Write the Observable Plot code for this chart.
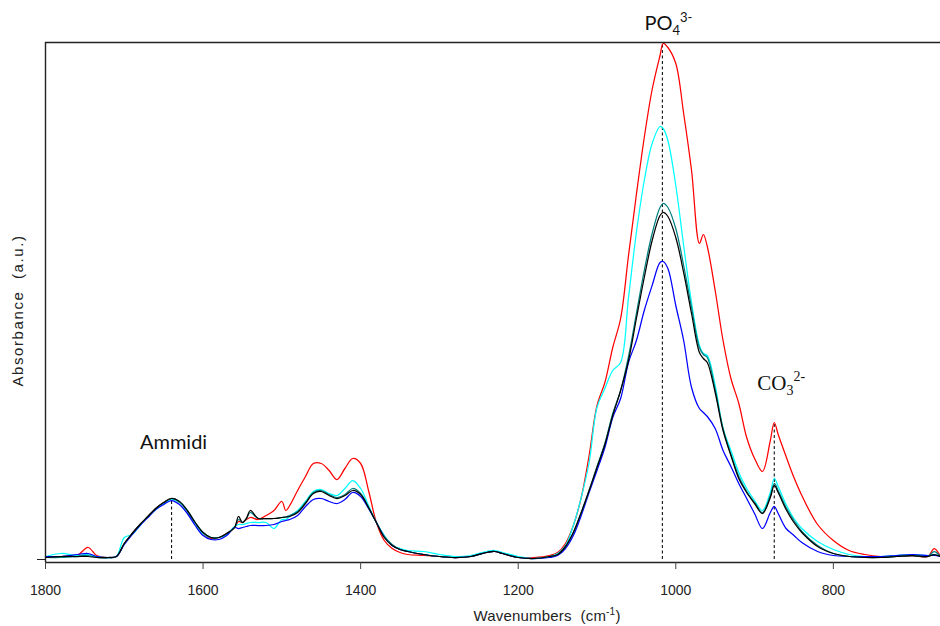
<!DOCTYPE html>
<html><head><meta charset="utf-8">
<script src="https://cdn.jsdelivr.net/npm/d3@7"></script>
<script src="https://cdn.jsdelivr.net/npm/@observablehq/plot@0.6"></script>
<style>body{margin:0;background:#fff}svg{display:block}</style>
</head><body><div id="chart"></div>
<script>
// Wavenumber grid (cm-1)
const wavenumbers = [
 1800,1780,1760,1746,1735,1720,
 1710,1700,1690,1680,1670,1660,1650,1640,1630,1620,1610,1600,
 1590,1580,1570,1560,1555,1550,1545,1540,
 1530,1520,1510,1500,1495,1490,1480,1470,1460,1450,1440,1430,1420,1410,1400,
 1390,1380,1370,1360,1350,1340,1320,1300,1280,1260,1240,1230,1220,1200,1180,1160,
 1150,1140,1130,1120,1110,1100,1090,1080,1070,1060,1050,1040,1030,1020,1016,
 1010,1000,990,980,970,965,960,950,940,930,920,910,900,890,
 880,875,870,860,850,840,820,800,780,760,740,720,700,680,672,664];

const spectrumRed = [
 0.004,0.006,0.008,0.024,0.008,0.004,
 0.006,0.032,0.052,0.070,0.086,0.102,0.114,0.122,0.114,0.096,0.072,0.052,
 0.042,0.044,0.052,0.064,0.076,0.074,0.080,0.084,
 0.080,0.088,0.098,0.116,0.098,0.108,0.138,0.166,0.192,0.192,0.178,0.160,0.182,0.202,0.192,
 0.138,0.074,0.038,0.022,0.014,0.010,0.008,0.006,0.004,0.006,0.014,0.016,0.012,0.004,0.004,0.008,
 0.014,0.032,0.068,0.124,0.208,0.308,0.354,0.424,0.482,0.608,0.730,0.844,0.940,1.008,1.032,
 1.024,0.992,0.892,0.778,0.632,0.650,0.626,0.538,0.438,0.362,0.312,0.244,0.202,0.176,
 0.238,0.274,0.250,0.206,0.164,0.128,0.070,0.038,0.018,0.010,0.006,0.006,0.008,0.006,0.022,0.006];

const spectrumCyan = [
 0.006,0.012,0.008,0.010,0.006,0.004,
 0.006,0.044,0.050,0.068,0.086,0.100,0.112,0.120,0.114,0.096,0.072,0.052,
 0.044,0.044,0.050,0.066,0.070,0.070,0.072,0.074,
 0.074,0.074,0.062,0.080,0.080,0.086,0.098,0.116,0.136,0.140,0.132,0.128,0.142,0.158,0.142,
 0.108,0.074,0.048,0.028,0.022,0.018,0.016,0.010,0.006,0.008,0.016,0.018,0.014,0.006,0.002,0.006,
 0.012,0.028,0.068,0.124,0.194,0.304,0.342,0.378,0.394,0.524,0.654,0.758,0.832,0.866,0.862,
 0.838,0.748,0.628,0.514,0.428,0.412,0.408,0.348,0.262,0.218,0.174,0.142,0.118,0.098,
 0.134,0.162,0.146,0.110,0.082,0.062,0.036,0.020,0.010,0.006,0.006,0.008,0.010,0.008,0.010,0.006];

const spectrumBlue = [
 0.006,0.006,0.010,0.012,0.006,0.004,
 0.006,0.030,0.050,0.068,0.084,0.100,0.110,0.118,0.110,0.092,0.068,0.048,
 0.040,0.040,0.048,0.064,0.062,0.064,0.066,0.068,
 0.068,0.068,0.070,0.076,0.078,0.080,0.088,0.106,0.120,0.122,0.116,0.112,0.120,0.134,0.126,
 0.102,0.074,0.046,0.028,0.020,0.016,0.010,0.006,0.004,0.006,0.014,0.016,0.012,0.004,0.002,0.004,
 0.008,0.022,0.048,0.088,0.134,0.178,0.224,0.284,0.322,0.394,0.438,0.498,0.548,0.594,0.596,
 0.582,0.508,0.438,0.344,0.302,0.294,0.286,0.262,0.218,0.186,0.152,0.122,0.092,0.062,
 0.094,0.106,0.092,0.062,0.048,0.034,0.016,0.008,0.006,0.006,0.006,0.008,0.010,0.008,0.008,0.006];

const spectrumTeal = [
 0.004,0.004,0.006,0.008,0.004,0.003,
 0.006,0.032,0.052,0.070,0.086,0.102,0.114,0.122,0.116,0.098,0.074,0.054,
 0.044,0.044,0.052,0.064,0.080,0.074,0.082,0.094,
 0.082,0.082,0.082,0.084,0.085,0.088,0.096,0.114,0.134,0.138,0.130,0.124,0.130,0.142,0.132,
 0.104,0.074,0.046,0.030,0.020,0.016,0.010,0.006,0.004,0.006,0.014,0.016,0.012,0.004,0.002,0.006,
 0.010,0.026,0.054,0.094,0.138,0.186,0.232,0.292,0.338,0.406,0.492,0.578,0.652,0.704,0.712,
 0.704,0.662,0.588,0.504,0.424,0.410,0.404,0.340,0.262,0.210,0.166,0.136,0.114,0.094,
 0.128,0.152,0.138,0.104,0.078,0.056,0.028,0.012,0.006,0.004,0.004,0.006,0.008,0.006,0.016,0.006];

const spectrumBlack = [
 0.004,0.006,0.006,0.006,0.004,0.004,
 0.006,0.032,0.052,0.070,0.086,0.102,0.114,0.122,0.116,0.098,0.074,0.054,
 0.044,0.044,0.052,0.064,0.086,0.074,0.082,0.098,
 0.082,0.082,0.082,0.084,0.085,0.086,0.094,0.112,0.132,0.136,0.128,0.122,0.128,0.138,0.130,
 0.104,0.074,0.044,0.028,0.020,0.016,0.010,0.006,0.004,0.006,0.014,0.016,0.012,0.004,0.002,0.006,
 0.010,0.026,0.054,0.094,0.138,0.184,0.230,0.288,0.338,0.398,0.482,0.564,0.638,0.688,0.694,
 0.686,0.644,0.574,0.492,0.414,0.402,0.394,0.334,0.258,0.208,0.162,0.134,0.112,0.092,
 0.124,0.148,0.134,0.100,0.074,0.054,0.026,0.012,0.006,0.004,0.004,0.006,0.008,0.006,0.010,0.006];

const seriesNames = ["red","cyan","blue","teal","black"];
const seriesColors = ["#e35656","#4ae5e5","#5252dc","#559b96","#2b2b2b"];
const seriesValues = [spectrumRed, spectrumCyan, spectrumBlue, spectrumTeal, spectrumBlack];

const xTicks = [1800,1600,1400,1200,1000,800];

// band markers: position (cm-1) and peak top of dashed guide
const bandNames = ["Ammidi","PO4","CO3"];
const bandWavenumbers = [1640,1017,875];
const bandTops = [0.122,1.034,0.274];
const bandLabelY = [0.222,1.06,0.34];

const rows = [];
seriesNames.forEach((s,k) => wavenumbers.forEach((w,i) => rows.push({series:s, w, a:seriesValues[k][i]})));
const bands = bandNames.map((n,i) => ({name:n, w:bandWavenumbers[i], top:bandTops[i], ly:bandLabelY[i]}));
const labelShift = {Ammidi: 2, PO4: 6, CO3: 7};

const yMin = -0.006, yMax = 1.034;

const chart = Plot.plot({
  width: 940, height: 626,
  marginTop: 42, marginBottom: 64, marginLeft: 45, marginRight: 0,
  x: {domain: [1800, 664]},
  y: {domain: [yMin, yMax]},
  color: {domain: seriesNames, range: seriesColors},
  style: {fontFamily: "'Liberation Sans', Arial, sans-serif", fontSize: "14px", color: "#222", background: "#fff"},
  marks: [
    Plot.ruleX(bands, {x: "w", y1: 0, y2: "top", stroke: "#111", strokeWidth: 1.1, strokeDasharray: "3,2.5"}),
    Plot.line(rows, {x: "w", y: "a", z: "series", stroke: "series", strokeWidth: 1.25, curve: "catmull-rom"}),
    Plot.ruleY([yMax], {stroke: "#222", strokeWidth: 1.4}),
    Plot.ruleY([yMin], {stroke: "#222", strokeWidth: 1.4}),
    Plot.ruleX([1800], {stroke: "#222", strokeWidth: 1.4}),
    Plot.axisX({ticks: xTicks, tickSize: 7, tickPadding: 16, tickFormat: d => String(d), label: null, fontSize: 14, stroke: "#444"}),
    Plot.axisY({ticks: [0], tickSize: 8, tickFormat: () => "", label: null, stroke: "#222"}),
    Plot.text(["Absorbance  (a.u.)"], {frameAnchor: "left", textAnchor: "middle", y: 0.498, rotate: -90, dx: -27, fontSize: 15, fill: "#222"}),
    Plot.text(["Wavenumbers  (cm-1)"], {frameAnchor: "bottom", lineAnchor: "bottom", dx: 54, dy: 58, fontSize: 14, fill: "#222"}),
    ...bands.map(b => Plot.text([b], {x: "w", y: "ly", text: "name", dx: labelShift[b.name], lineAnchor: "bottom", fill: "#111"}))
  ]
});
document.getElementById("chart").appendChild(chart);

// rich text for chemical labels and units
const svg = d3.select(chart);
svg.selectAll("text").each(function() {
  const t = this.textContent;
  const el = d3.select(this);
  const build = (parts, font, size) => {
    el.text(null).attr("font-family", font).attr("font-size", size).style("white-space", "pre");
    parts.forEach(p => {
      const ts = el.append("tspan").text(p.t);
      if (p.size) ts.attr("font-size", p.size);
      if (p.dy) ts.attr("dy", p.dy);
    });
  };
  if (t === "Ammidi") build([{t: "Ammidi"}], "Lato, 'Open Sans', sans-serif", 20);
  else if (t === "PO4") build([{t: "PO"}, {t: "4", size: 13, dy: 5}, {t: "3-", size: 13, dy: -13}], "Lato, 'Open Sans', sans-serif", 20);
  else if (t === "CO3") build([{t: "CO"}, {t: "3", size: 14, dy: 5}, {t: "2-", size: 14, dy: -14}], "'Liberation Serif', 'Times New Roman', serif", 21);
  else if (t === "Wavenumbers  (cm-1)") {
    build([{t: "Wavenumbers  (cm"}, {t: "-1", size: 10, dy: -6}, {t: ")", dy: 6}], "'Liberation Sans', Arial, sans-serif", 15);
    el.style("letter-spacing", "0.2px");
  }
  else if (t === "Absorbance  (a.u.)") el.style("white-space", "pre").style("letter-spacing", "1.6px");
});
</script></body></html>
